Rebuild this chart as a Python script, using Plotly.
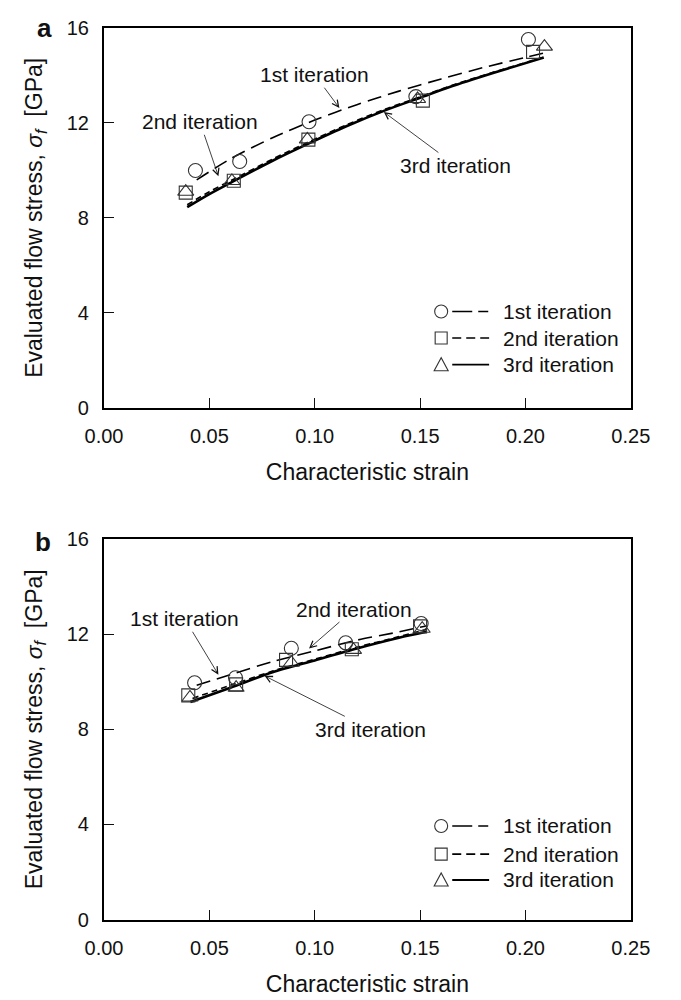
import plotly.graph_objects as go

# ---------------- data ----------------
# Panel a: symbols (evaluated points)
a_it1_x = [0.0434, 0.0644, 0.0973, 0.1480, 0.2014]
a_it1_y = [9.99, 10.37, 12.04, 13.10, 15.50]
a_it2_x = [0.0388, 0.0616, 0.0970, 0.1513, 0.2036]
a_it2_y = [9.06, 9.56, 11.29, 12.93, 14.98]
a_it3_x = [0.0388, 0.0607, 0.0965, 0.1488, 0.2090]
a_it3_y = [9.10, 9.55, 11.30, 13.00, 15.20]
# Panel a: fitted curves
a_fit1_x = [0.044, 0.060, 0.080, 0.100, 0.120, 0.140, 0.160, 0.180, 0.200, 0.210]
a_fit1_y = [9.60, 10.48, 11.37, 12.11, 12.76, 13.33, 13.84, 14.32, 14.75, 14.96]
a_fit2_x = [0.0395, 0.050, 0.0627, 0.080, 0.0965, 0.115, 0.1328, 0.150, 0.164, 0.185, 0.2087]
a_fit2_y = [8.55, 9.10, 9.68, 10.47, 11.17, 11.91, 12.55, 13.09, 13.54, 14.13, 14.76]
a_fit3_x = [0.0395, 0.050, 0.0627, 0.080, 0.0965, 0.115, 0.1328, 0.150, 0.164, 0.185, 0.2087]
a_fit3_y = [8.45, 9.00, 9.60, 10.40, 11.10, 11.85, 12.50, 13.05, 13.50, 14.10, 14.74]

# Panel b: symbols
b_it1_x = [0.0430, 0.0624, 0.0889, 0.1147, 0.1505]
b_it1_y = [9.96, 10.17, 11.41, 11.64, 12.45]
b_it2_x = [0.0400, 0.0627, 0.0864, 0.1176, 0.1500]
b_it2_y = [9.43, 9.89, 10.92, 11.37, 12.33]
b_it3_x = [0.0408, 0.0627, 0.0889, 0.1184, 0.1510]
b_it3_y = [9.34, 9.75, 10.80, 11.34, 12.23]
# Panel b: fitted curves
b_fit1_x = [0.044, 0.060, 0.080, 0.100, 0.120, 0.140, 0.153]
b_fit1_y = [9.85, 10.30, 10.85, 11.30, 11.75, 12.10, 12.35]
b_fit2_x = [0.042, 0.060, 0.080, 0.100, 0.120, 0.140, 0.153]
b_fit2_y = [9.30, 9.85, 10.45, 10.95, 11.45, 11.90, 12.20]
b_fit3_x = [0.041, 0.060, 0.080, 0.100, 0.120, 0.140, 0.153]
b_fit3_y = [9.15, 9.75, 10.40, 10.90, 11.40, 11.85, 12.10]

series_names = ["1st iteration", "2nd iteration", "3rd iteration"]
x_ticks = [0.00, 0.05, 0.10, 0.15, 0.20, 0.25]
y_ticks = [0, 4, 8, 12, 16]

# ---------------- styles ----------------
FONT = "Liberation Sans, Arial, sans-serif"
INK = "#111111"
MK_COLOR = "#333333"
symbols = ["circle-open", "square-open", "triangle-up-open"]
msizes = [14, 13, 14]
dashes = ["14px,7px", "6px,4px", "solid"]
widths = [1.6, 1.6, 2.6]

fig = go.Figure()

panels = [
    ("x", "y", [(a_it1_x, a_it1_y), (a_it2_x, a_it2_y), (a_it3_x, a_it3_y)],
     [(a_fit1_x, a_fit1_y), (a_fit2_x, a_fit2_y), (a_fit3_x, a_fit3_y)]),
    ("x2", "y2", [(b_it1_x, b_it1_y), (b_it2_x, b_it2_y), (b_it3_x, b_it3_y)],
     [(b_fit1_x, b_fit1_y), (b_fit2_x, b_fit2_y), (b_fit3_x, b_fit3_y)]),
]

for xa, ya, pts, fits in panels:
    for i, (fx, fy) in enumerate(fits):
        fig.add_trace(go.Scatter(x=fx, y=fy, mode="lines", xaxis=xa, yaxis=ya,
                                 line=dict(color="black", width=widths[i], dash=dashes[i],
                                           shape="spline", smoothing=0.8),
                                 name=series_names[i], showlegend=False))
    for i, (px, py) in enumerate(pts):
        fig.add_trace(go.Scatter(x=px, y=py, mode="markers", xaxis=xa, yaxis=ya,
                                 marker=dict(symbol=symbols[i], size=msizes[i], color=MK_COLOR,
                                             line=dict(width=1.1, color=MK_COLOR)),
                                 name=series_names[i], showlegend=False))

# ---------------- axes ----------------
def xaxis_style(anchor):
    return dict(range=[0, 0.25], tickvals=x_ticks, tickformat=".2f",
                ticks="inside", ticklen=10, tickwidth=1, tickcolor=INK,
                showline=True, linecolor="black", linewidth=2, mirror=True,
                showgrid=False, zeroline=False, anchor=anchor,
                domain=[90/681, 648/681], ticklabelstandoff=9,
                tickfont=dict(family=FONT, size=20, color=INK),
                title=dict(text="Characteristic strain", standoff=18,
                           font=dict(family=FONT, size=23, color=INK)))

def yaxis_style(anchor, dom):
    return dict(range=[0, 16], tickvals=y_ticks,
                ticks="inside", ticklen=10, tickwidth=1, tickcolor=INK,
                showline=True, linecolor="black", linewidth=2, mirror=True,
                showgrid=False, zeroline=False, anchor=anchor, domain=dom,
                ticklabelstandoff=9,
                tickfont=dict(family=FONT, size=20, color=INK),
                title=dict(text="Evaluated flow stress, <i>σ<sub>f</sub></i>  [GPa]", standoff=18,
                           font=dict(family=FONT, size=23, color=INK)))

fig.update_layout(
    width=681, height=1000,
    margin=dict(l=0, r=0, t=0, b=0),
    paper_bgcolor="white", plot_bgcolor="white",
    showlegend=False,
    xaxis=xaxis_style("y"),
    yaxis=yaxis_style("x", [1 - 406/1000, 1 - 17/1000]),
    xaxis2=xaxis_style("y2"),
    yaxis2=yaxis_style("x2", [1 - 929/1000, 1 - 540/1000]),
)

ann = []
# panel letters
ann.append(dict(text="<b>a</b>", x=27/681, y=1 - 17/1000, xref="paper", yref="paper",
                xanchor="center", yanchor="middle", showarrow=False,
                font=dict(family=FONT, size=26, color=INK)))
ann.append(dict(text="<b>b</b>", x=25/681, y=1 - 543/1000, xref="paper", yref="paper",
                xanchor="center", yanchor="middle", showarrow=False,
                font=dict(family=FONT, size=26, color=INK)))

def callout(xa, ya, text, tx, ty, tipx, tipy):
    return dict(text=text, x=tipx, y=tipy, xref=xa, yref=ya,
                ax=tx, ay=ty, axref=xa, ayref=ya, showarrow=True,
                arrowhead=5, arrowsize=1.6, arrowwidth=0.8, arrowcolor=INK,
                font=dict(family=FONT, size=21, color=INK))

# panel a callouts
ann.append(callout("x", "y", "1st iteration", 0.100, 14.02, 0.1117, 12.62))
ann.append(callout("x", "y", "2nd iteration", 0.0455, 12.04, 0.0543, 9.75))
ann.append(callout("x", "y", "3rd iteration", 0.167, 10.2, 0.1328, 12.45))
# panel b callouts
ann.append(callout("x2", "y2", "1st iteration", 0.0383, 12.65, 0.0543, 10.3))
ann.append(callout("x2", "y2", "2nd iteration", 0.1188, 13.06, 0.0973, 11.4))
ann.append(callout("x2", "y2", "3rd iteration", 0.1265, 8.0, 0.0762, 10.25))

# manual legends (marker, line sample, label) in axis-domain coordinates
legend_rows = {"x": [0.254, 0.184, 0.114], "x2": [0.246, 0.172, 0.104]}
leg_dash = ["20px,6px,10px", "9px,5px", "solid"]
mk = 0.640
shapes = []
for xa, ya in [("x", "y"), ("x2", "y2")]:
    xr, yr = f"{xa} domain", f"{ya} domain"
    for i in range(3):
        yy = legend_rows[xa][i]
        base = dict(xref=xr, yref=yr, xsizemode="pixel", ysizemode="pixel",
                    xanchor=mk, yanchor=yy, line=dict(color=MK_COLOR, width=1.1))
        if i == 0:
            shapes.append(dict(type="circle", x0=-6.5, x1=6.5, y0=-6.5, y1=6.5, **base))
        elif i == 1:
            shapes.append(dict(type="rect", x0=-6, x1=6, y0=-6, y1=6, **base))
        else:
            shapes.append(dict(type="path", path="M -7,-6 L 7,-6 L 0,7 Z", **base))
        shapes.append(dict(type="line", x0=0.661, x1=0.731, y0=yy, y1=yy, xref=xr, yref=yr,
                           line=dict(color="black", width=1.6 if i < 2 else 1.8, dash=leg_dash[i])))
        ann.append(dict(text=series_names[i], x=0.754, y=yy, xref=xr, yref=yr,
                        xanchor="left", yanchor="middle", showarrow=False,
                        font=dict(family=FONT, size=21, color=INK)))

fig.update_layout(annotations=ann, shapes=shapes)
fig.write_html("out.html")
